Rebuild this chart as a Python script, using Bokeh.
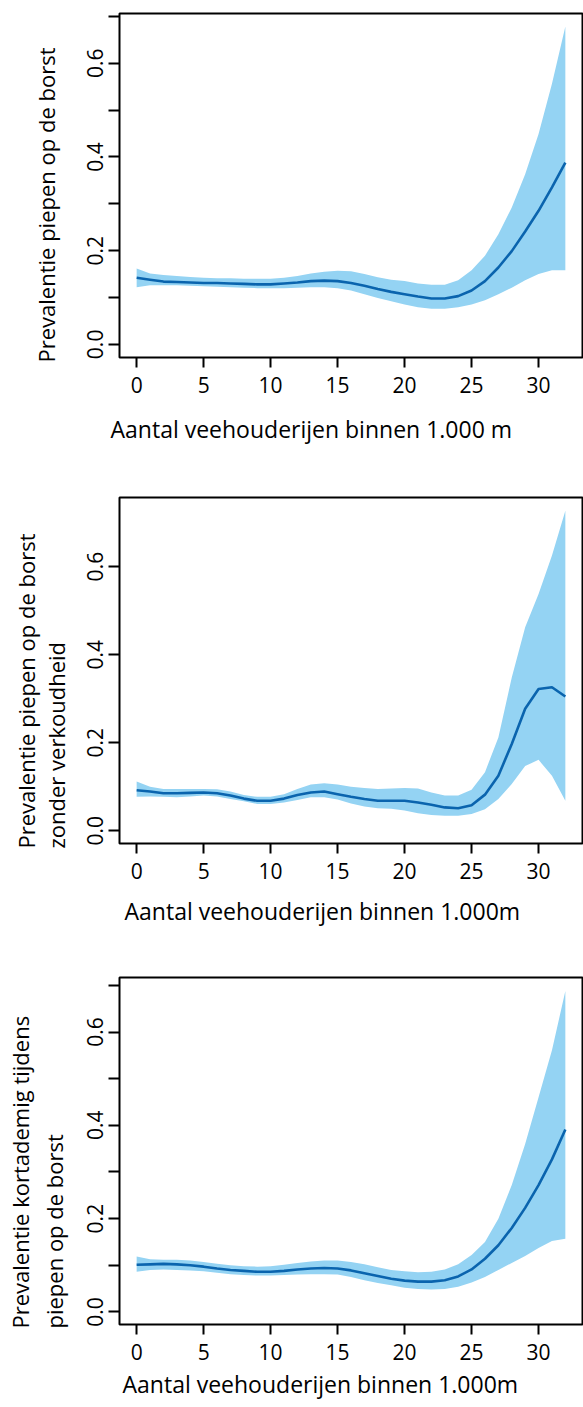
from bokeh.plotting import figure
from bokeh.layouts import column
from bokeh.models import Range1d, FixedTicker, Title, PrintfTickFormatter
from bokeh.embed import file_html
from bokeh.resources import INLINE

# ---------------- data ----------------
x_vals = list(range(0, 33))
x_ticks = [0, 5, 10, 15, 20, 25, 30]

# Panel 1: Prevalentie piepen op de borst
p1_fit = [0.142, 0.138, 0.134, 0.133, 0.132, 0.131, 0.131, 0.130, 0.129, 0.128, 0.128,
          0.130, 0.132, 0.135, 0.136, 0.135, 0.131, 0.125, 0.118, 0.112, 0.107, 0.102,
          0.098, 0.098, 0.103, 0.115, 0.135, 0.164, 0.199, 0.241, 0.285, 0.335, 0.388]
p1_upper = [0.162, 0.151, 0.148, 0.146, 0.144, 0.142, 0.141, 0.141, 0.140, 0.140, 0.140,
            0.142, 0.146, 0.151, 0.155, 0.157, 0.156, 0.150, 0.143, 0.138, 0.135, 0.130,
            0.127, 0.127, 0.137, 0.158, 0.189, 0.235, 0.292, 0.363, 0.449, 0.556, 0.678]
p1_lower = [0.122, 0.126, 0.126, 0.126, 0.125, 0.124, 0.123, 0.122, 0.121, 0.120, 0.120,
            0.120, 0.121, 0.122, 0.122, 0.120, 0.115, 0.107, 0.099, 0.092, 0.085, 0.079,
            0.076, 0.076, 0.079, 0.085, 0.094, 0.107, 0.121, 0.137, 0.150, 0.158, 0.158]

# Panel 2: Prevalentie piepen op de borst zonder verkoudheid
p2_fit = [0.092, 0.089, 0.085, 0.085, 0.086, 0.087, 0.085, 0.080, 0.073, 0.068, 0.068,
          0.073, 0.081, 0.087, 0.089, 0.083, 0.077, 0.072, 0.068, 0.068, 0.068, 0.064,
          0.059, 0.053, 0.051, 0.058, 0.082, 0.125, 0.197, 0.277, 0.322, 0.326, 0.305]
p2_upper = [0.112, 0.100, 0.095, 0.095, 0.095, 0.095, 0.094, 0.089, 0.081, 0.077, 0.077,
            0.083, 0.095, 0.105, 0.108, 0.105, 0.100, 0.097, 0.095, 0.096, 0.097, 0.096,
            0.087, 0.080, 0.080, 0.093, 0.133, 0.212, 0.348, 0.462, 0.538, 0.625, 0.727]
p2_lower = [0.077, 0.078, 0.077, 0.076, 0.078, 0.080, 0.078, 0.072, 0.067, 0.061, 0.061,
            0.064, 0.070, 0.076, 0.076, 0.071, 0.062, 0.055, 0.051, 0.050, 0.046, 0.040,
            0.036, 0.034, 0.034, 0.038, 0.049, 0.072, 0.106, 0.147, 0.161, 0.125, 0.068]

# Panel 3: Prevalentie kortademig tijdens piepen op de borst
p3_fit = [0.101, 0.102, 0.103, 0.102, 0.100, 0.097, 0.093, 0.090, 0.088, 0.086, 0.086,
          0.088, 0.091, 0.093, 0.094, 0.093, 0.089, 0.083, 0.077, 0.071, 0.067, 0.065,
          0.065, 0.068, 0.076, 0.091, 0.114, 0.143, 0.180, 0.223, 0.272, 0.327, 0.391]
p3_upper = [0.119, 0.113, 0.112, 0.112, 0.110, 0.107, 0.103, 0.100, 0.098, 0.097, 0.098,
            0.101, 0.105, 0.108, 0.110, 0.110, 0.107, 0.102, 0.096, 0.090, 0.087, 0.085,
            0.086, 0.091, 0.102, 0.122, 0.150, 0.200, 0.272, 0.360, 0.460, 0.561, 0.688]
p3_lower = [0.086, 0.090, 0.091, 0.090, 0.089, 0.087, 0.084, 0.081, 0.079, 0.078, 0.078,
            0.079, 0.080, 0.081, 0.081, 0.080, 0.075, 0.068, 0.062, 0.057, 0.052, 0.049,
            0.048, 0.049, 0.054, 0.063, 0.075, 0.090, 0.105, 0.120, 0.137, 0.152, 0.157]

y_ticks_fine = [0.0, 0.1, 0.2, 0.3, 0.4, 0.5, 0.6, 0.7]
y_ticks_coarse = [0.0, 0.2, 0.4, 0.6]

x_title = "Aantal veehouderijen binnen 1.000 m"
x_title2 = "Aantal veehouderijen binnen 1.000m"
y_title1 = ["Prevalentie piepen op de borst"]
y_title2 = ["Prevalentie piepen op de borst", "zonder verkoudheid"]
y_title3 = ["Prevalentie kortademig tijdens", "piepen op de borst"]

# ---------------- style ----------------
FONT = "Open Sans"
BAND = "#94D3F3"
LINE = "#0A64AE"
TICK_SIZE = "21px"
XTITLE_SIZE = "23px"
YTITLE_SIZE = "22px"


def panel(height, top, bottom, left, yr, yticks, fit, lo, hi,
          ylines, y_standoffs, y_offset, xt, xt_offset, xt_standoff):
    p = figure(width=583, height=height, x_range=Range1d(-1.28, 33.28),
               y_range=Range1d(*yr), output_backend="svg", toolbar_location=None,
               min_border_left=left, min_border_right=1, min_border_top=top,
               min_border_bottom=bottom)
    p.grid.visible = False
    p.outline_line_color = "black"
    p.outline_line_width = 2
    p.background_fill_color = "white"
    p.border_fill_color = "white"

    p.varea(x=x_vals, y1=lo, y2=hi, fill_color=BAND, fill_alpha=1.0)
    p.line(x=x_vals, y=fit, line_color=LINE, line_width=2.6)

    for ax in (p.xaxis[0], p.yaxis[0]):
        ax.axis_line_color = None
        ax.major_tick_in = 0
        ax.major_tick_out = 11
        ax.major_tick_line_width = 2
        ax.minor_tick_line_color = None
        ax.major_label_text_font = FONT
        ax.major_label_text_font_size = TICK_SIZE
        ax.major_label_text_color = "black"

    p.xaxis.ticker = FixedTicker(ticks=x_ticks)
    p.xaxis.major_tick_out = 10
    p.xaxis.major_label_standoff = 9

    p.yaxis.ticker = FixedTicker(ticks=yticks)
    p.yaxis.formatter = PrintfTickFormatter(format="%.1f")
    p.yaxis.major_label_orientation = "vertical"
    p.yaxis.major_label_standoff = 5
    overrides = {}
    for t in yticks:
        if round(t * 10) % 2 == 1:
            overrides[t] = ""
    if overrides:
        p.yaxis.major_label_overrides = overrides

    # y titles: innermost line first (closest to the axis)
    for txt, so in reversed(list(zip(ylines, y_standoffs))):
        p.add_layout(Title(text=txt, align="left", vertical_align="bottom",
                           offset=y_offset, standoff=so, text_font=FONT,
                           text_font_size=YTITLE_SIZE, text_font_style="normal",
                           text_color="black"), "left")
    p.add_layout(Title(text=xt, align="left", vertical_align="top",
                       offset=xt_offset, standoff=xt_standoff, text_font=FONT,
                       text_font_size=XTITLE_SIZE, text_font_style="normal",
                       text_color="black"), "below")
    return p


f1 = panel(487, 13, 130, 119, (-0.028, 0.706), y_ticks_fine, p1_fit, p1_lower, p1_upper,
           y_title1, [48], -5, x_title, -9, 34)
f2 = panel(480, 10, 124, 117, (-0.029, 0.757), y_ticks_coarse, p2_fit, p2_lower, p2_upper,
           y_title2, [-30, 27], -5, x_title2, 5, 27)
f3 = panel(440, 10, 83, 116, (-0.027, 0.717), y_ticks_fine, p3_fit, p3_lower, p3_upper,
           y_title3, [-29, 32], -4, x_title2, 3, 10)

layout = column(f1, f2, f3, spacing=0)
open("out.html", "w").write(file_html(layout, INLINE))
